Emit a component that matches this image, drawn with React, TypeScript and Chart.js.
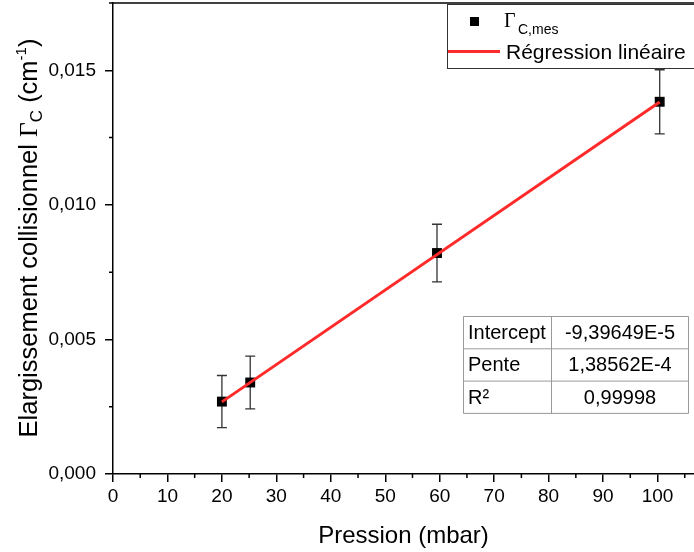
import { useEffect, useRef } from 'react';
import { Chart, registerables } from 'chart.js';
Chart.register(...registerables);

const pressure = [20, 25.2, 59.5, 100.4];
const gammaC = [0.00269, 0.0034, 0.00821, 0.01383];
const gammaErr = [0.00097, 0.00098, 0.00107, 0.00119];
const fitX = [20, 100.4];
const fitY = [0.00268, 0.01382];
const xTicks = [0, 10, 20, 30, 40, 50, 60, 70, 80, 90, 100];
const xMinorTicks = [5, 15, 25, 35, 45, 55, 65, 75, 85, 95, 105];
const yTicks = [0, 0.005, 0.01, 0.015];
const yMinorTicks = [0.0025, 0.0075, 0.0125, 0.0175];
const tableLabels = ['Intercept', 'Pente', 'R²'];
const tableValues = ['-9,39649E-5', '1,38562E-4', '0,99998'];

const SANS = '"Liberation Sans", Arial, sans-serif';
const SERIF = '"Liberation Serif", "Times New Roman", serif';

const decorations = {
  id: 'decorations',
  beforeDatasetsDraw(chart: any) {
    const ctx = chart.ctx;
    const xs = chart.scales.x;
    const ys = chart.scales.y;
    ctx.save();
    ctx.strokeStyle = '#333';
    ctx.lineWidth = 1.3;
    pressure.forEach((p, i) => {
      const x = xs.getPixelForValue(p);
      const yt = ys.getPixelForValue(gammaC[i] + gammaErr[i]);
      const yb = ys.getPixelForValue(gammaC[i] - gammaErr[i]);
      ctx.beginPath();
      ctx.moveTo(x, yt);
      ctx.lineTo(x, yb);
      ctx.moveTo(x - 5, yt);
      ctx.lineTo(x + 5, yt);
      ctx.moveTo(x - 5, yb);
      ctx.lineTo(x + 5, yb);
      ctx.stroke();
    });
    ctx.restore();
  },
  afterDraw(chart: any) {
    const ctx = chart.ctx;
    const xs = chart.scales.x;
    const ys = chart.scales.y;
    const a = chart.chartArea;
    ctx.save();
    ctx.strokeStyle = '#000';
    ctx.lineWidth = 1.5;
    ctx.beginPath();
    ctx.moveTo(a.left, a.top);
    ctx.lineTo(a.right, a.top);
    ctx.stroke();
    ctx.beginPath();
    xMinorTicks.forEach((v) => {
      const x = xs.getPixelForValue(v);
      ctx.moveTo(x, a.bottom);
      ctx.lineTo(x, a.bottom + 4);
    });
    yMinorTicks.forEach((v) => {
      const y = ys.getPixelForValue(v);
      ctx.moveTo(a.left - 4, y);
      ctx.lineTo(a.left, y);
    });
    ctx.stroke();

    ctx.fillStyle = '#000';
    ctx.font = `24px ${SANS}`;
    ctx.textAlign = 'center';
    ctx.textBaseline = 'alphabetic';
    ctx.fillText('Pression (mbar)', (a.left + a.right) / 2, 543);

    const parts: [string, string, number][] = [
      ['Elargissement collisionnel ', `25.5px ${SANS}`, 0],
      ['Γ', `25.5px ${SERIF}`, 0],
      ['C', `17px ${SANS}`, 5],
      [' (cm', `25.5px ${SANS}`, 0],
      ['-1', `15px ${SANS}`, -11],
      [')', `25.5px ${SANS}`, 0],
    ];
    let total = 0;
    const widths = parts.map(([t, f]) => {
      ctx.font = f;
      const w = ctx.measureText(t).width;
      total += w;
      return w;
    });
    ctx.save();
    ctx.translate(37, 238);
    ctx.rotate(-Math.PI / 2);
    ctx.textAlign = 'left';
    let cx = -total / 2;
    parts.forEach(([t, f, dy], i) => {
      ctx.font = f;
      ctx.fillText(t, cx, dy);
      cx += widths[i];
    });
    ctx.restore();

    ctx.fillStyle = '#fff';
    ctx.fillRect(447.5, 4.5, 260, 64);
    ctx.strokeStyle = '#333';
    ctx.lineWidth = 1;
    ctx.strokeRect(447.5, 4.5, 260, 64);
    ctx.fillStyle = '#000';
    ctx.fillRect(470, 17, 9, 9);
    ctx.font = `20px ${SERIF}`;
    ctx.textAlign = 'left';
    ctx.fillText('Γ', 504, 27);
    ctx.font = `14px ${SANS}`;
    ctx.fillText('C,mes', 518, 34);
    ctx.strokeStyle = '#ff2a2a';
    ctx.lineWidth = 3;
    ctx.beginPath();
    ctx.moveTo(448, 51.5);
    ctx.lineTo(500, 51.5);
    ctx.stroke();
    ctx.font = `21px ${SANS}`;
    ctx.fillText('Régression linéaire', 506, 59);

    const tl = 463.5, tr = 688.5, tt = 316.5, rowH = 32.3, colX = 551.5;
    ctx.strokeStyle = '#999';
    ctx.lineWidth = 1;
    ctx.beginPath();
    ctx.rect(tl, tt, tr - tl, rowH * 3);
    ctx.moveTo(colX, tt);
    ctx.lineTo(colX, tt + rowH * 3);
    for (let r = 1; r < 3; r++) {
      ctx.moveTo(tl, tt + rowH * r);
      ctx.lineTo(tr, tt + rowH * r);
    }
    ctx.stroke();
    ctx.font = `20px ${SANS}`;
    ctx.fillStyle = '#000';
    ctx.textBaseline = 'middle';
    tableLabels.forEach((lab, r) => {
      const cy = tt + rowH * r + rowH / 2 + 1;
      ctx.textAlign = 'left';
      ctx.fillText(lab, 468, cy);
      ctx.textAlign = 'center';
      ctx.fillText(tableValues[r], (colX + tr) / 2, cy);
    });
    ctx.restore();
  },
};

export default function App() {
  const ref = useRef<HTMLCanvasElement>(null);
  useEffect(() => {
    if (!ref.current) return;
    const chart = new Chart(ref.current, {
      type: 'scatter',
      data: {
        datasets: [
          {
            type: 'line',
            label: 'Régression linéaire',
            data: fitX.map((x, i) => ({ x, y: fitY[i] })),
            borderColor: '#ff2a2a',
            borderWidth: 3,
            pointRadius: 0,
            fill: false,
            order: 1,
          } as any,
          {
            type: 'scatter',
            label: 'ΓC,mes',
            data: pressure.map((x, i) => ({ x, y: gammaC[i] })),
            pointStyle: 'rect',
            pointRadius: 7,
            backgroundColor: '#000',
            borderColor: '#000',
            borderWidth: 0,
            order: 2,
          } as any,
        ],
      },
      options: {
        animation: false,
        responsive: false,
        layout: { autoPadding: false, padding: { top: 3, left: 0, right: 0, bottom: 0 } },
        plugins: { legend: { display: false }, tooltip: { enabled: false } },
        scales: {
          x: {
            type: 'linear',
            min: 0,
            max: 106.7,
            afterBuildTicks: (s: any) => {
              s.ticks = xTicks.map((v) => ({ value: v }));
            },
            afterFit: (s: any) => {
              s.height = 78;
              s.paddingLeft = 0;
              s.paddingRight = 0;
            },
            grid: { display: true, drawOnChartArea: false, tickLength: 8, color: '#000', lineWidth: 1.5 },
            border: { display: true, color: '#000', width: 1.5 },
            ticks: {
              font: { family: SANS, size: 19 },
              color: '#000',
              padding: 3,
              maxRotation: 0,
              autoSkip: false,
            },
          },
          y: {
            type: 'linear',
            min: 0,
            max: 0.0175,
            afterBuildTicks: (s: any) => {
              s.ticks = yTicks.map((v) => ({ value: v }));
            },
            afterFit: (s: any) => {
              s.width = 113;
              s.paddingTop = 0;
              s.paddingBottom = 0;
            },
            grid: { display: true, drawOnChartArea: false, tickLength: 8, color: '#000', lineWidth: 1.5 },
            border: { display: true, color: '#000', width: 1.5 },
            ticks: {
              font: { family: SANS, size: 19 },
              color: '#000',
              padding: 9,
              autoSkip: false,
              callback: (v: any) => Number(v).toFixed(3).replace('.', ','),
            },
          },
        },
      },
      plugins: [decorations],
    });
    return () => chart.destroy();
  }, []);
  return (
    <div style={{ position: 'absolute', left: 0, top: 0, width: 694, height: 552, background: '#fff' }}>
      <canvas ref={ref} width={694} height={552} />
    </div>
  );
}
